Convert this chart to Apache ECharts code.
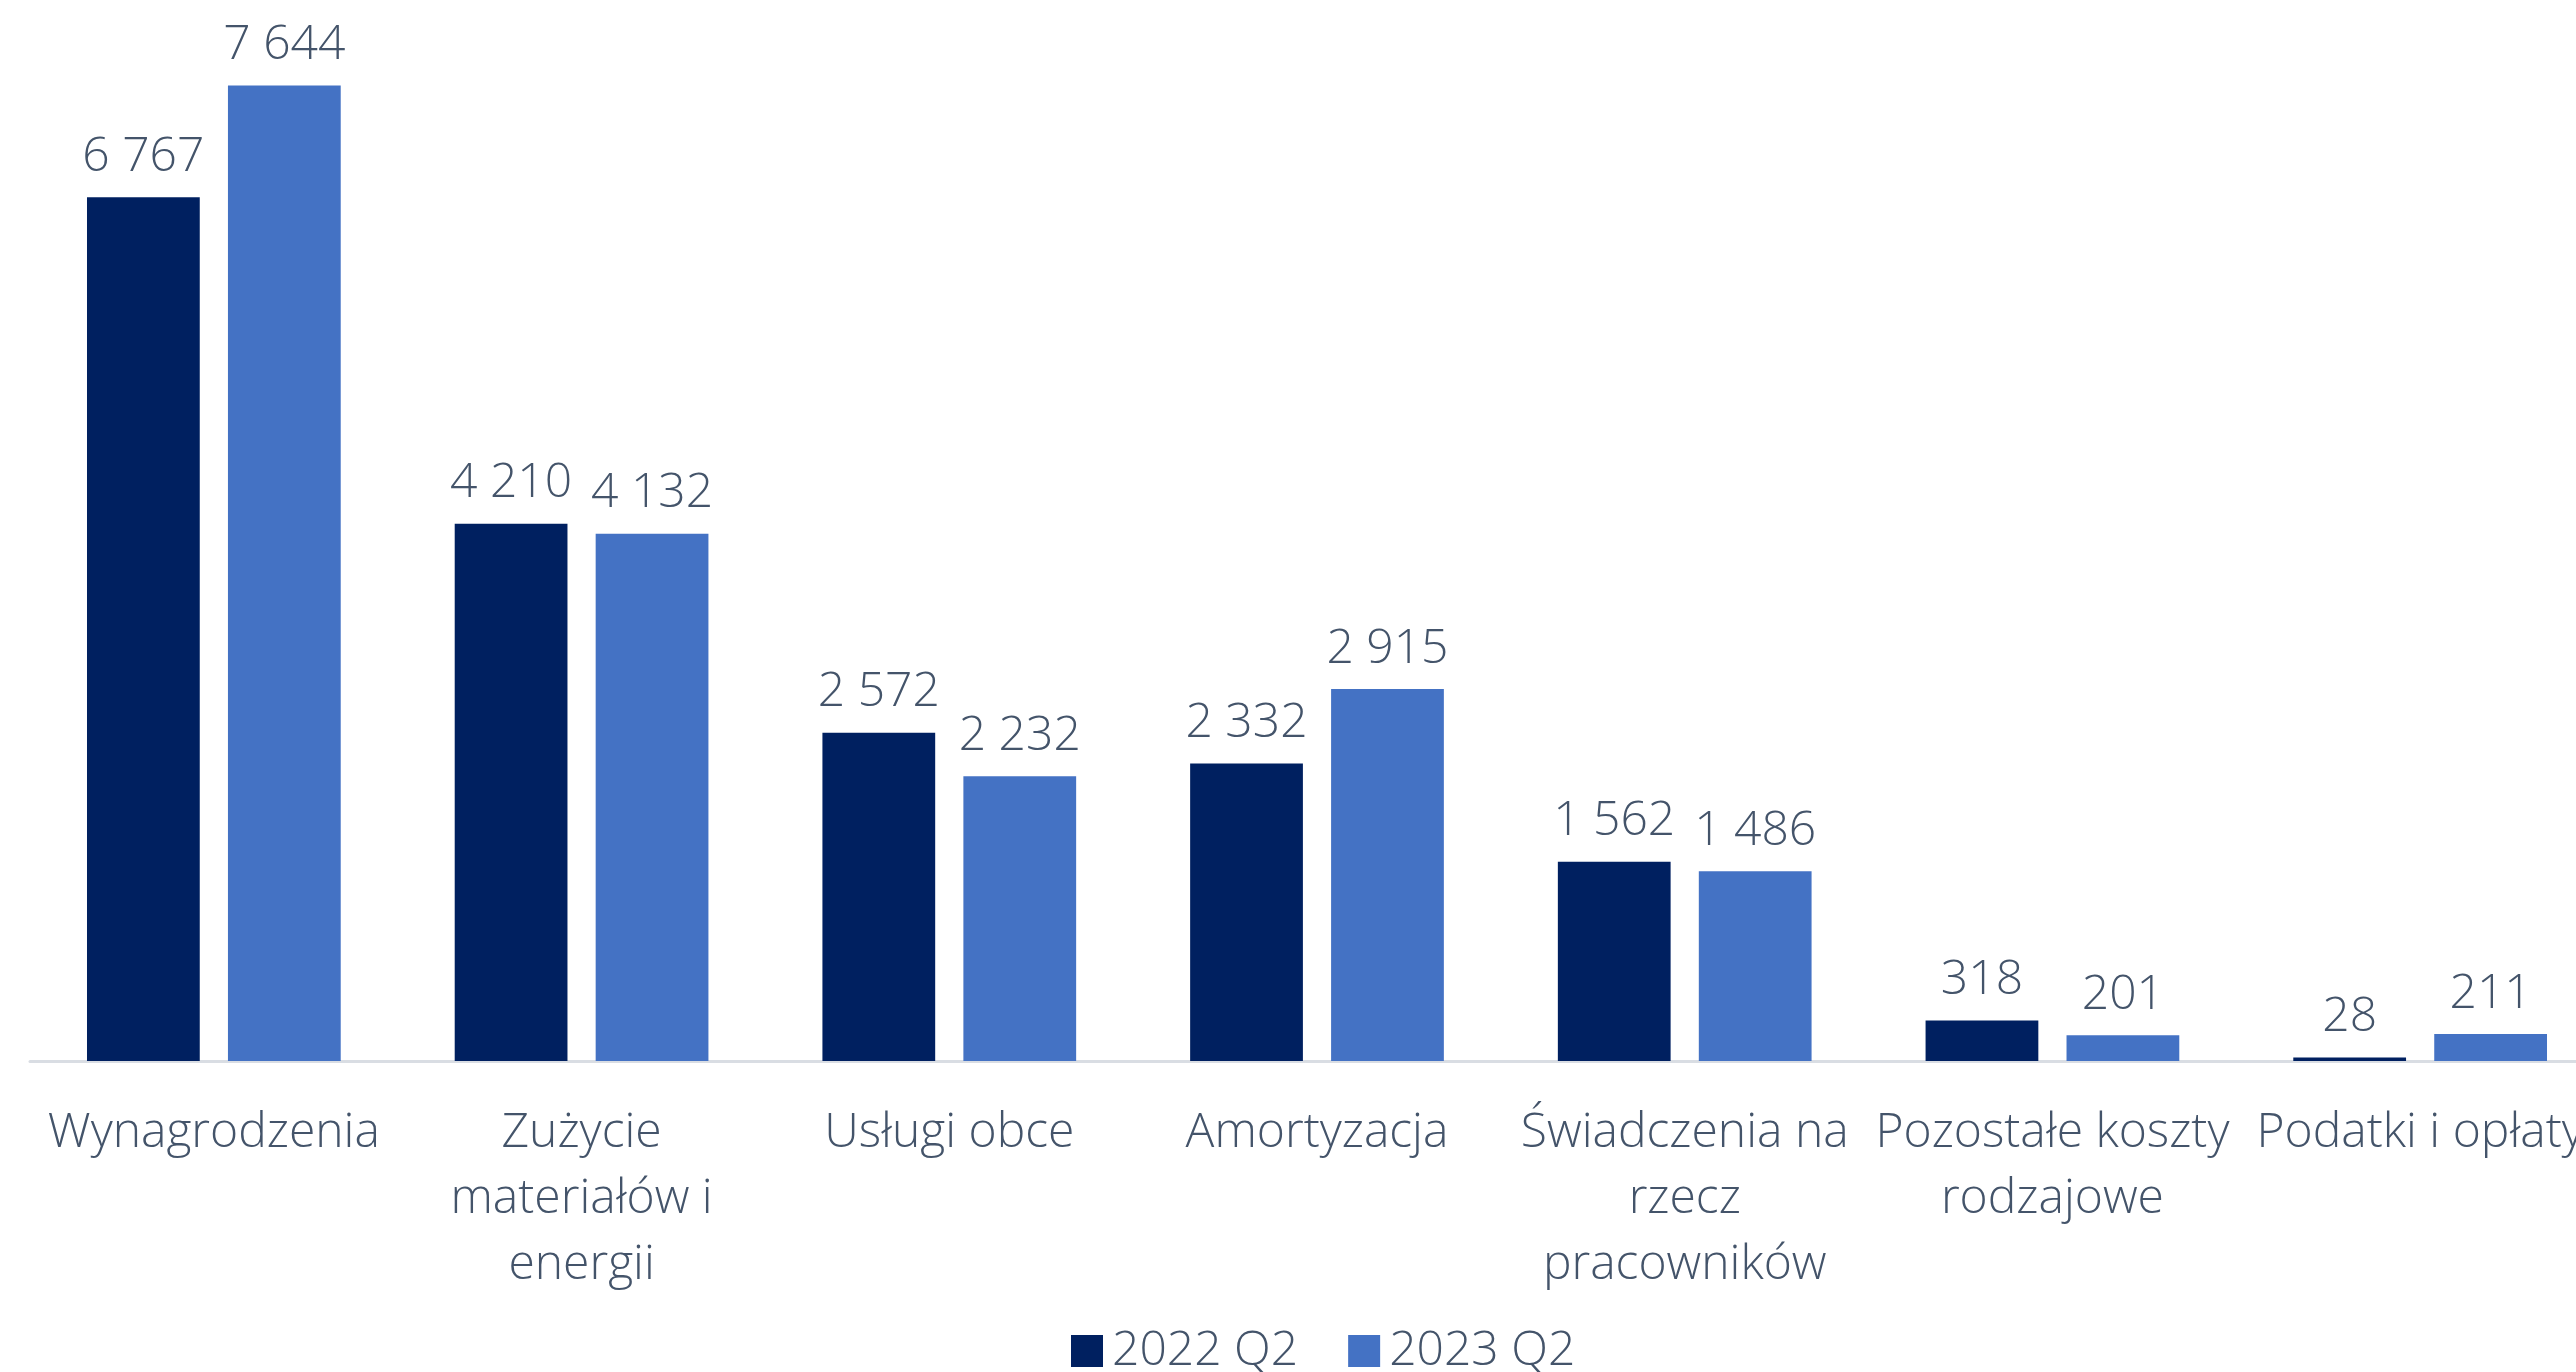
<!DOCTYPE html>
<html>
<head>
<meta charset="utf-8">
<script src="https://cdn.jsdelivr.net/npm/echarts@6/dist/echarts.min.js"></script>
<style>
html,body{margin:0;padding:0;background:#fff;overflow:hidden;width:2576px;height:1372px;}
#chart{width:2640px;height:1372px;}
</style>
</head>
<body>
<div id="chart"></div>
<script>
const categories = [
  'Wynagrodzenia',
  'Zużycie\nmateriałów i\nenergii',
  'Usługi obce',
  'Amortyzacja',
  'Świadczenia na\nrzecz\npracowników',
  'Pozostałe koszty\nrodzajowe',
  'Podatki i opłaty'
];
const seriesNames = ['2022 Q2', '2023 Q2'];
const values2022 = [6767, 4210, 2572, 2332, 1562, 318, 28];
const values2023 = [7644, 4132, 2232, 2915, 1486, 201, 211];

const FONT = '"Open Sans", "Noto Sans", sans-serif';
const TXT = '#44546A';
const fmt = v => String(v).replace(/\B(?=(\d{3})+(?!\d))/g, ' ');

const chart = echarts.init(document.getElementById('chart'));
const labelCfg = {
  show: true, position: 'top', distance: 16,
  fontFamily: FONT, fontWeight: 300, fontSize: 48, color: TXT,
  formatter: p => fmt(p.value)
};
chart.setOption({
  animation: false,
  textStyle: { fontFamily: FONT },
  legend: {
    data: seriesNames,
    left: 1066, top: 1322,
    itemWidth: 32, itemHeight: 32, itemGap: 50,
    icon: 'rect',
    textStyle: { fontFamily: FONT, fontWeight: 300, fontSize: 48, color: TXT, padding: [0, 0, 0, 4] }
  },
  grid: { left: 30, width: 2574, top: 40, height: 1021 },
  xAxis: {
    type: 'category',
    data: categories,
    axisLine: { lineStyle: { color: '#D9DDE3', width: 3 } },
    axisTick: { show: false },
    axisLabel: {
      interval: 0, margin: 39,
      fontFamily: FONT, fontWeight: 300, fontSize: 48, lineHeight: 66, color: TXT
    }
  },
  yAxis: {
    type: 'value', min: 0, max: 8000, interval: 1000, show: false,
    splitLine: { show: false }
  },
  series: [
    { name: seriesNames[0], type: 'bar', data: values2022, barGap: '25%', barCategoryGap: '31%',
      itemStyle: { color: '#002060' }, label: labelCfg },
    { name: seriesNames[1], type: 'bar', data: values2023,
      itemStyle: { color: '#4472C4' }, label: labelCfg }
  ]
});
</script>
</body>
</html>
